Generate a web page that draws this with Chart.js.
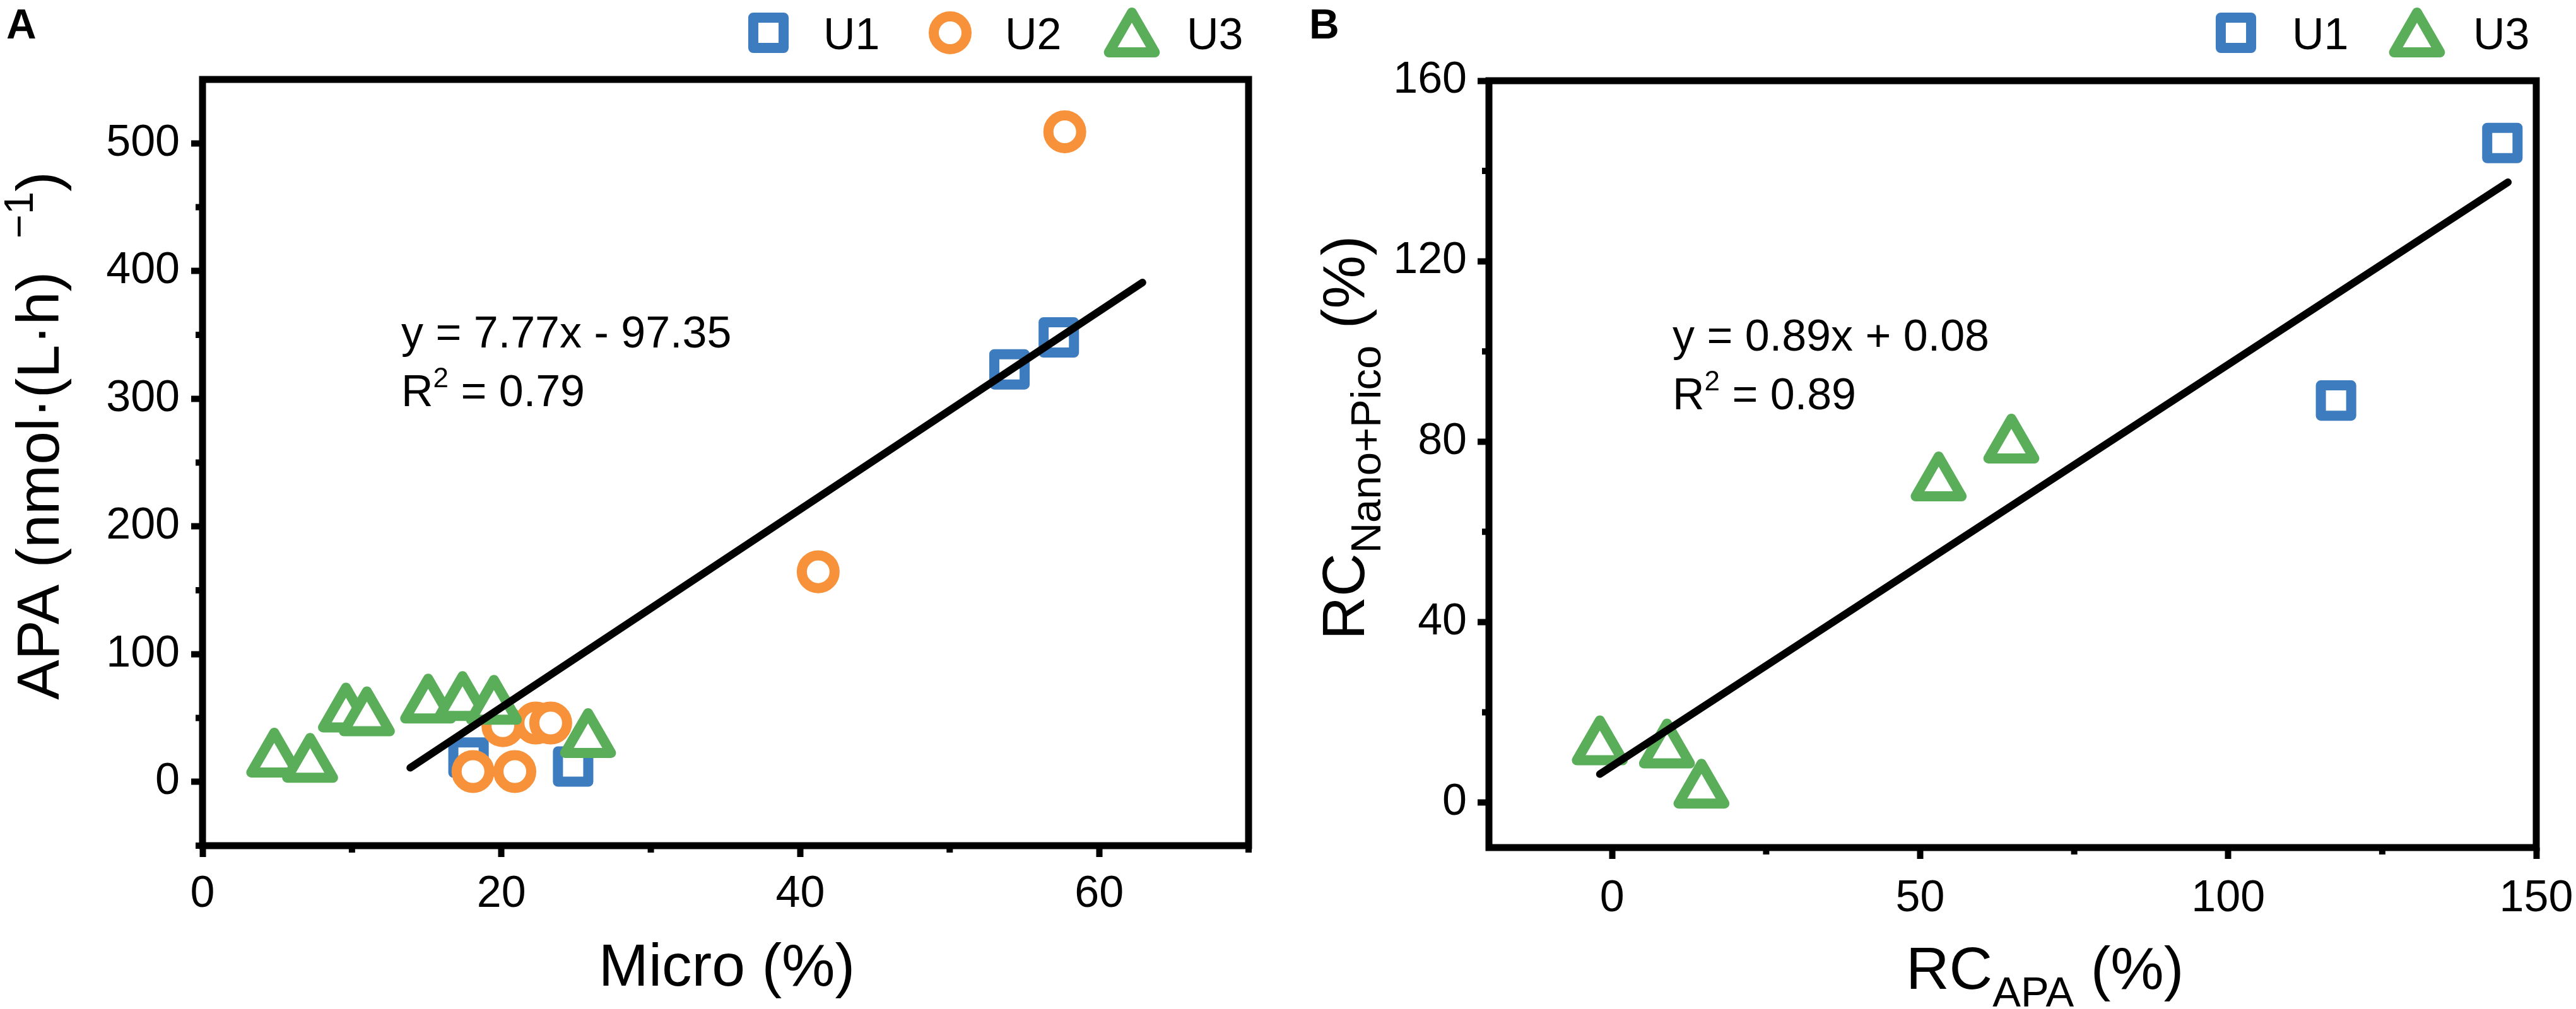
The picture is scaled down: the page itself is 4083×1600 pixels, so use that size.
<!DOCTYPE html>
<html>
<head>
<meta charset="utf-8">
<title>APA vs Micro / RC</title>
<script src="https://cdn.jsdelivr.net/npm/chart.js"></script>
<style>
  html, body { margin: 0; padding: 0; background: #fff; }
  #wrap { position: relative; width: 4083px; height: 1600px; }
  canvas { position: absolute; top: 0; }
  #chartA { left: 0; }
  #chartB { left: 2040px; }
</style>
</head>
<body>
<div id="wrap">
  <canvas id="chartA" width="2083" height="1600"></canvas>
  <canvas id="chartB" width="2043" height="1600"></canvas>
</div>
<script>
// ---- panel A : APA vs Micro (%)
const aU1x = [54.0, 57.3, 17.8, 24.8];
const aU1y = [323, 348, 19, 12];
const aU2x = [57.7, 41.2, 18.1, 20.9, 20.1, 22.3, 23.3];
const aU2y = [509, 164.5, 8, 8, 44, 46, 46];
const aU3x = [4.8, 7.2, 9.6, 11.0, 15.1, 17.4, 19.5, 25.8];
const aU3y = [17.7, 13.6, 53, 50, 60, 62, 59, 33];
const aFitX = [13.9, 62.9];
const aFitY = [11, 391];
const aTicksX = [0, 20, 40, 60];
const aMinorX = [10, 30, 50, 70];
const aTicksY = [0, 100, 200, 300, 400, 500];
const aMinorY = [-50, 50, 150, 250, 350, 450];

// ---- panel B : RC Nano+Pico vs RC APA
const bU1x = [144.5, 117.5];
const bU1y = [146.2, 89.1];
const bU3x = [-2.0, 8.9, 14.5, 53.0, 64.8];
const bU3y = [12.3, 11.6, 2.7, 70.8, 79.2];
const bFitX = [-2.0, 145.4];
const bFitY = [6.3, 137.5];
const bTicksX = [0, 50, 100, 150];
const bMinorX = [25, 75, 125];
const bTicksY = [0, 40, 80, 120, 160];
const bMinorY = [20, 60, 100, 140];

const BLUE = '#3e7cc0';
const ORANGE = '#f7923b';
const GREEN = '#5aae5a';
const FONT = "'Liberation Sans', Arial, Helvetica, sans-serif";

const MARK = {
  U1: { pointStyle: 'rect', radius: 34, borderWidth: 16, color: BLUE },
  U2: { pointStyle: 'circle', radius: 26, borderWidth: 16, color: ORANGE },
  U3: { pointStyle: 'triangle', radius: 42, borderWidth: 16, color: GREEN }
};

const pts = (xs, ys) => xs.map((x, i) => ({ x, y: ys[i] }));

function markerSet(name, xs, ys, order) {
  const m = MARK[name];
  return {
    label: name,
    data: pts(xs, ys),
    pointStyle: m.pointStyle,
    pointRadius: m.radius,
    pointHoverRadius: m.radius,
    pointBorderWidth: m.borderWidth,
    pointHoverBorderWidth: m.borderWidth,
    pointBorderColor: m.color,
    pointBackgroundColor: '#fff',
    order
  };
}

function fitSet(xs, ys) {
  return {
    label: 'fit',
    data: pts(xs, ys),
    showLine: true,
    borderColor: '#000',
    borderWidth: 12,
    borderCapStyle: 'round',
    pointRadius: 0,
    pointHoverRadius: 0,
    order: 0
  };
}

// rich text: parts = [{t, size, dy}] drawn along a baseline
function richWidth(ctx, parts) {
  let w = 0;
  for (const p of parts) {
    ctx.font = `${p.bold ? 'bold ' : ''}${p.size}px ${FONT}`;
    w += ctx.measureText(p.t).width;
  }
  return w;
}

function drawRich(ctx, parts, x, y, align = 'left', rotate = false) {
  ctx.save();
  ctx.translate(x, y);
  if (rotate) ctx.rotate(-Math.PI / 2);
  ctx.fillStyle = '#000';
  ctx.textBaseline = 'alphabetic';
  ctx.textAlign = 'left';
  let cx = 0;
  const w = richWidth(ctx, parts);
  if (align === 'center') cx = -w / 2;
  for (const p of parts) {
    ctx.font = `${p.bold ? 'bold ' : ''}${p.size}px ${FONT}`;
    ctx.fillText(p.t, cx, p.dy || 0);
    cx += ctx.measureText(p.t).width;
  }
  ctx.restore();
}

function drawMarker(ctx, name, x, y) {
  const m = MARK[name];
  ctx.save();
  ctx.lineJoin = 'round';
  ctx.strokeStyle = m.color;
  ctx.fillStyle = '#fff';
  ctx.lineWidth = m.borderWidth;
  Chart.helpers.drawPoint(ctx, { pointStyle: m.pointStyle, radius: m.radius, rotation: 0, borderWidth: m.borderWidth }, x, y);
  ctx.restore();
}

const decor = {
  id: 'decor',
  beforeDatasetsDraw(chart) {
    chart.ctx.lineJoin = 'round';
  },
  afterDatasetsDraw(chart) {
    chart.ctx.lineJoin = 'miter';
  },
  afterDraw(chart, args, opts) {
    const { ctx, chartArea: ca, scales: { x, y } } = chart;
    ctx.save();
    ctx.strokeStyle = '#000';
    ctx.lineCap = 'butt';
    ctx.lineWidth = 10;
    ctx.beginPath();
    for (const v of opts.minorX) {
      const px = x.getPixelForValue(v);
      ctx.moveTo(px, ca.bottom);
      ctx.lineTo(px, ca.bottom + 11);
    }
    for (const v of opts.minorY) {
      const py = y.getPixelForValue(v);
      ctx.moveTo(ca.left, py);
      ctx.lineTo(ca.left - 11, py);
    }
    ctx.stroke();
    ctx.lineWidth = 11;
    ctx.strokeRect(ca.left, ca.top, ca.right - ca.left, ca.bottom - ca.top);
    ctx.restore();

    // panel letter
    drawRich(ctx, [{ t: opts.letter, size: 66, bold: true }], opts.letterX, 61);

    // legend
    for (const item of opts.legend) {
      const dy = MARK[item.name].pointStyle === 'triangle' ? 10 : 0;
      drawMarker(ctx, item.name, item.mx, 52 + dy);
      drawRich(ctx, [{ t: item.name, size: 70 }], item.tx, 78);
    }

    // equation
    drawRich(ctx, [{ t: opts.eq, size: 70 }], opts.eqX, opts.eqY);
    drawRich(ctx, [
      { t: 'R', size: 70 },
      { t: '2', size: 44, dy: -30 },
      { t: ' = ' + opts.r2, size: 70 }
    ], opts.eqX, opts.eqY + 93);

    // axis titles
    drawRich(ctx, opts.xTitle, opts.xTitleX, opts.xTitleY, opts.xTitleAlign);
    drawRich(ctx, opts.yTitle, opts.yTitleX, opts.yTitleY, 'center', true);
  }
};

function axis(min, max, ticks, box, pad, isX) {
  return {
    type: 'linear',
    min,
    max,
    afterBuildTicks: s => { s.ticks = ticks.map(v => ({ value: v })); },
    afterFit: s => {
      if (isX) s.height = box; else s.width = box;
      s.paddingLeft = 0; s.paddingRight = 0; s.paddingTop = 0; s.paddingBottom = 0;
    },
    grid: { drawOnChartArea: false, drawTicks: true, tickLength: 18, tickWidth: 10, tickColor: '#000', color: '#000' },
    border: { display: false },
    ticks: { color: '#000', font: { family: FONT, size: 70 }, padding: pad, autoSkip: false, maxRotation: 0 }
  };
}

function makeChart(id, datasets, sc, decorOpts) {
  return new Chart(document.getElementById(id), {
    type: 'scatter',
    data: { datasets },
    options: {
      responsive: false,
      animation: false,
      devicePixelRatio: 1,
      layout: { padding: { left: 0, top: sc.top, right: sc.right, bottom: 0 } },
      plugins: { legend: { display: false }, tooltip: { enabled: false }, decor: decorOpts },
      scales: {
        x: axis(sc.xMin, sc.xMax, sc.xTicks, sc.xBox, sc.xPad, true),
        y: axis(sc.yMin, sc.yMax, sc.yTicks, sc.yBox, sc.yPad, false)
      }
    },
    plugins: [decor]
  });
}

makeChart('chartA', [
  fitSet(aFitX, aFitY),
  markerSet('U3', aU3x, aU3y, 1),
  markerSet('U2', aU2x, aU2y, 2),
  markerSet('U1', aU1x, aU1y, 3)
], {
  top: 126, right: 2083 - 1979, xBox: 1600 - 1341, yBox: 321,
  xMin: 0, xMax: 70, yMin: -50, yMax: 550,
  xTicks: aTicksX, yTicks: aTicksY, xPad: 18, yPad: 18
}, {
  minorX: aMinorX, minorY: aMinorY,
  letter: 'A', letterX: 10,
  legend: [
    { name: 'U1', mx: 1218, tx: 1305 },
    { name: 'U2', mx: 1506, tx: 1593 },
    { name: 'U3', mx: 1794, tx: 1881 }
  ],
  eq: 'y = 7.77x - 97.35', r2: '0.79', eqX: 636, eqY: 551,
  xTitle: [{ t: 'Micro (%)', size: 95 }], xTitleX: 1152, xTitleY: 1563, xTitleAlign: 'center',
  yTitle: [
    { t: 'APA (nmol·(L·h)  ', size: 95 },
    { t: '−1', size: 65, dy: -41 },
    { t: ')', size: 95 }
  ],
  yTitleX: 93, yTitleY: 691
});

makeChart('chartB', [
  fitSet(bFitX, bFitY),
  markerSet('U3', bU3x, bU3y, 1),
  markerSet('U1', bU1x, bU1y, 3)
], {
  top: 128, right: 2043 - 1980, xBox: 1600 - 1344, yBox: 320,
  xMin: -20, xMax: 150, yMin: -10, yMax: 160,
  xTicks: bTicksX, yTicks: bTicksY, xPad: 22, yPad: 17
}, {
  minorX: bMinorX, minorY: bMinorY,
  letter: 'B', letterX: 35,
  legend: [
    { name: 'U1', mx: 1504, tx: 1593 },
    { name: 'U3', mx: 1791, tx: 1880 }
  ],
  eq: 'y = 0.89x + 0.08', r2: '0.89', eqX: 611, eqY: 556,
  xTitle: [
    { t: 'RC', size: 95 },
    { t: 'APA', size: 67, dy: 28 },
    { t: ' (%)', size: 95 }
  ],
  xTitleX: 981, xTitleY: 1568, xTitleAlign: 'left',
  yTitle: [
    { t: 'RC', size: 95 },
    { t: 'Nano+Pico', size: 67, dy: 26 },
    { t: ' (%)', size: 95 }
  ],
  yTitleX: 122, yTitleY: 694
});
</script>
</body>
</html>
